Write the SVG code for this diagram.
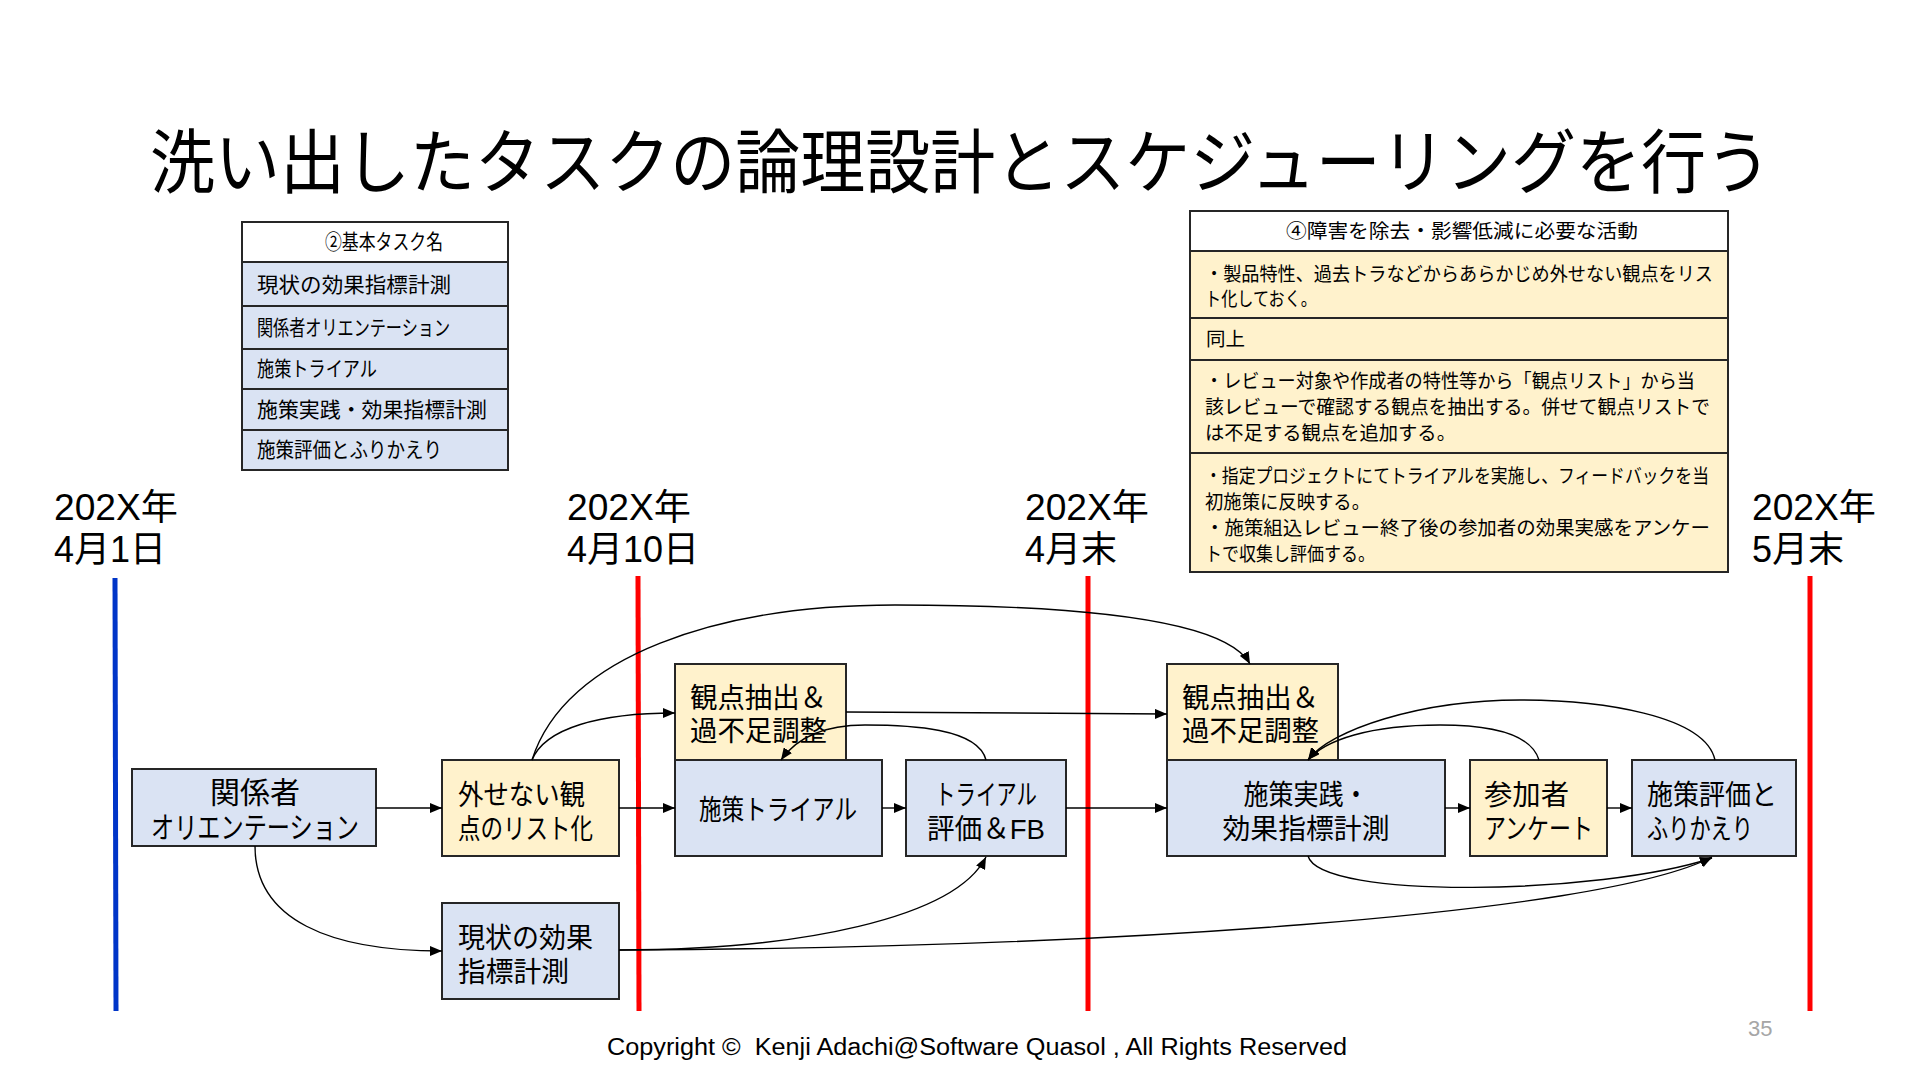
<svg xmlns="http://www.w3.org/2000/svg" width="1920" height="1080" viewBox="0 0 1920 1080">
<style>
text{font-family:"Liberation Sans","Noto Sans CJK JP",sans-serif;fill:#000}
.title{font-size:70px}
.tl{font-size:36px}
.tb{font-size:21px}
.tb4{font-size:19.5px}
.nt{font-size:28px}
.blue{fill:#DAE3F3;stroke:#262626;stroke-width:2}
.yel{fill:#FFF2CC;stroke:#262626;stroke-width:2}
.hdr{fill:#FFFFFF;stroke:#262626;stroke-width:2}
.red{stroke:#FF0000;stroke-width:5}
.conn path,.conn line{fill:none;stroke:#000;stroke-width:1.4;marker-end:url(#ah)}
.foot{font-family:"Liberation Sans",Arial,sans-serif;font-size:23px}
</style>
<defs>
<marker id="ah" markerUnits="userSpaceOnUse" markerWidth="13" markerHeight="10" refX="12" refY="5" orient="auto">
<path d="M0,0 L12,5 L0,10 z" fill="#000"/>
</marker>
</defs>
<rect width="1920" height="1080" fill="#FFFFFF"/>

<text class="title" x="150" y="188" textLength="1621" lengthAdjust="spacingAndGlyphs">洗い出したタスクの論理設計とスケジューリングを行う</text>

<!-- Table 2 -->
<g id="table-basic-tasks">
<rect class="hdr" x="242" y="222" width="266" height="40"/>
<rect class="blue" x="242" y="262" width="266" height="44"/>
<rect class="blue" x="242" y="306" width="266" height="43"/>
<rect class="blue" x="242" y="349" width="266" height="40"/>
<rect class="blue" x="242" y="389" width="266" height="41"/>
<rect class="blue" x="242" y="430" width="266" height="40"/>
<text class="tb" x="384" y="249" text-anchor="middle" textLength="118" lengthAdjust="spacingAndGlyphs">②基本タスク名</text>
<text class="tb" x="257" y="292" textLength="194" lengthAdjust="spacingAndGlyphs">現状の効果指標計測</text>
<text class="tb" x="257" y="335" textLength="193" lengthAdjust="spacingAndGlyphs">関係者オリエンテーション</text>
<text class="tb" x="257" y="376" textLength="120" lengthAdjust="spacingAndGlyphs">施策トライアル</text>
<text class="tb" x="257" y="417" textLength="230" lengthAdjust="spacingAndGlyphs">施策実践・効果指標計測</text>
<text class="tb" x="257" y="457" textLength="185" lengthAdjust="spacingAndGlyphs">施策評価とふりかえり</text>
</g>

<!-- Table 4 -->
<g id="table-activities">
<rect class="hdr" x="1190" y="211" width="538" height="40"/>
<rect class="yel" x="1190" y="251" width="538" height="67"/>
<rect class="yel" x="1190" y="318" width="538" height="42"/>
<rect class="yel" x="1190" y="360" width="538" height="93"/>
<rect class="yel" x="1190" y="453" width="538" height="119"/>
<text class="tb4" x="1462" y="238" text-anchor="middle" textLength="352" lengthAdjust="spacingAndGlyphs">④障害を除去・影響低減に必要な活動</text>
<text class="tb4"><tspan x="1205" y="281" textLength="508" lengthAdjust="spacingAndGlyphs">・製品特性、過去トラなどからあらかじめ外せない観点をリス</tspan><tspan x="1205" y="306" textLength="112" lengthAdjust="spacingAndGlyphs">ト化しておく。</tspan></text>
<text class="tb4" x="1206" y="346">同上</text>
<text class="tb4"><tspan x="1205" y="388" textLength="490" lengthAdjust="spacingAndGlyphs">・レビュー対象や作成者の特性等から「観点リスト」から当</tspan><tspan x="1205" y="414" textLength="505" lengthAdjust="spacingAndGlyphs">該レビューで確認する観点を抽出する。併せて観点リストで</tspan><tspan x="1205" y="440" textLength="251" lengthAdjust="spacingAndGlyphs">は不足する観点を追加する。</tspan></text>
<text class="tb4"><tspan x="1205" y="483" textLength="504" lengthAdjust="spacingAndGlyphs">・指定プロジェクトにてトライアルを実施し、フィードバックを当</tspan><tspan x="1205" y="509" textLength="165" lengthAdjust="spacingAndGlyphs">初施策に反映する。</tspan><tspan x="1205" y="535" textLength="505" lengthAdjust="spacingAndGlyphs">・施策組込レビュー終了後の参加者の効果実感をアンケー</tspan><tspan x="1205" y="561" textLength="170" lengthAdjust="spacingAndGlyphs">トで収集し評価する。</tspan></text>
</g>

<!-- Timeline -->
<g id="timeline">
<text class="tl"><tspan x="54" y="520" textLength="124" lengthAdjust="spacingAndGlyphs">202X年</tspan><tspan x="54" y="562">4月1日</tspan></text>
<text class="tl"><tspan x="567" y="520" textLength="124" lengthAdjust="spacingAndGlyphs">202X年</tspan><tspan x="567" y="562">4月10日</tspan></text>
<text class="tl"><tspan x="1025" y="520" textLength="124" lengthAdjust="spacingAndGlyphs">202X年</tspan><tspan x="1025" y="562">4月末</tspan></text>
<text class="tl"><tspan x="1752" y="520" textLength="124" lengthAdjust="spacingAndGlyphs">202X年</tspan><tspan x="1752" y="562">5月末</tspan></text>
<line x1="115" y1="578" x2="116" y2="1011" stroke="#0035C8" stroke-width="5"/>
<line class="red" x1="638" y1="576" x2="639" y2="1011"/>
<line class="red" x1="1088" y1="576" x2="1088" y2="1011"/>
<line class="red" x1="1810" y1="576" x2="1810" y2="1011"/>
</g>

<!-- Nodes -->
<g id="n-orientation">
<rect class="blue" x="132" y="769" width="244" height="77"/>
<text class="nt" style="font-size:30px" text-anchor="middle"><tspan x="255" y="803">関係者</tspan><tspan x="255" y="838" textLength="208" lengthAdjust="spacingAndGlyphs">オリエンテーション</tspan></text>
</g>
<g id="n-list">
<rect class="yel" x="442" y="760" width="177" height="96"/>
<text class="nt"><tspan x="458" y="805" textLength="127" lengthAdjust="spacingAndGlyphs">外せない観</tspan><tspan x="458" y="839" textLength="135" lengthAdjust="spacingAndGlyphs">点のリスト化</tspan></text>
</g>
<g id="n-current">
<rect class="blue" x="442" y="903" width="177" height="96"/>
<text class="nt"><tspan x="458" y="948" textLength="135" lengthAdjust="spacingAndGlyphs">現状の効果</tspan><tspan x="458" y="982" textLength="111" lengthAdjust="spacingAndGlyphs">指標計測</tspan></text>
</g>
<g id="n-extract1">
<rect class="yel" x="675" y="664" width="171" height="96"/>
<text class="nt"><tspan x="690" y="708" textLength="137" lengthAdjust="spacingAndGlyphs">観点抽出＆</tspan><tspan x="690" y="741" textLength="137" lengthAdjust="spacingAndGlyphs">過不足調整</tspan></text>
</g>
<g id="n-trial">
<rect class="blue" x="675" y="760" width="207" height="96"/>
<text class="nt" x="778" y="820" text-anchor="middle" textLength="158" lengthAdjust="spacingAndGlyphs">施策トライアル</text>
</g>
<g id="n-trial-eval">
<rect class="blue" x="906" y="760" width="160" height="96"/>
<text class="nt" text-anchor="middle"><tspan x="986" y="805" textLength="102" lengthAdjust="spacingAndGlyphs">トライアル</tspan><tspan x="986" y="839" textLength="118" lengthAdjust="spacingAndGlyphs">評価＆FB</tspan></text>
</g>
<g id="n-extract2">
<rect class="yel" x="1167" y="664" width="171" height="96"/>
<text class="nt"><tspan x="1182" y="708" textLength="137" lengthAdjust="spacingAndGlyphs">観点抽出＆</tspan><tspan x="1182" y="741" textLength="137" lengthAdjust="spacingAndGlyphs">過不足調整</tspan></text>
</g>
<g id="n-practice">
<rect class="blue" x="1167" y="760" width="278" height="96"/>
<text class="nt" text-anchor="middle"><tspan x="1306" y="805" textLength="125" lengthAdjust="spacingAndGlyphs">施策実践・</tspan><tspan x="1306" y="839" textLength="167" lengthAdjust="spacingAndGlyphs">効果指標計測</tspan></text>
</g>
<g id="n-survey">
<rect class="yel" x="1470" y="760" width="137" height="96"/>
<text class="nt"><tspan x="1484" y="805" textLength="85" lengthAdjust="spacingAndGlyphs">参加者</tspan><tspan x="1484" y="839" textLength="109" lengthAdjust="spacingAndGlyphs">アンケート</tspan></text>
</g>
<g id="n-review">
<rect class="blue" x="1632" y="760" width="164" height="96"/>
<text class="nt"><tspan x="1647" y="805" textLength="130" lengthAdjust="spacingAndGlyphs">施策評価と</tspan><tspan x="1647" y="839" textLength="106" lengthAdjust="spacingAndGlyphs">ふりかえり</tspan></text>
</g>

<!-- Connectors -->
<g id="connectors" class="conn">
<line x1="376" y1="808" x2="442" y2="808"/>
<path d="M255,846 C255,920 330,951 442,951"/>
<line x1="619" y1="808" x2="675" y2="808"/>
<path d="M532,760 C545,728 600,713 675,713"/>
<path d="M532,760 C565,655 720,605 895,605 C1070,605 1225,618 1250,664"/>
<line x1="846" y1="712" x2="1167" y2="714"/>
<line x1="882" y1="808" x2="906" y2="808"/>
<path d="M986,760 C978,728 910,725 865,725 C820,725 795,740 781,760"/>
<line x1="1066" y1="808" x2="1167" y2="808"/>
<path d="M619,950 C800,950 955,918 986,857"/>
<path d="M619,950 C1100,948 1600,915 1712,857"/>
<line x1="1445" y1="808" x2="1470" y2="808"/>
<line x1="1607" y1="808" x2="1632" y2="808"/>
<path d="M1539,760 C1530,730 1480,725 1440,725 C1370,725 1325,740 1308,760"/>
<path d="M1715,760 C1705,715 1600,700 1520,700 C1420,700 1330,730 1308,760"/>
<path d="M1308,856 C1320,900 1600,895 1712,858"/>
</g>

<text class="foot" x="607" y="1055" textLength="740" lengthAdjust="spacingAndGlyphs" xml:space="preserve">Copyright ©  Kenji Adachi@Software Quasol , All Rights Reserved</text>
<text x="1748" y="1036" style="font-family:'Liberation Sans',Arial,sans-serif;font-size:22px;fill:#A6A6A6">35</text>
</svg>
